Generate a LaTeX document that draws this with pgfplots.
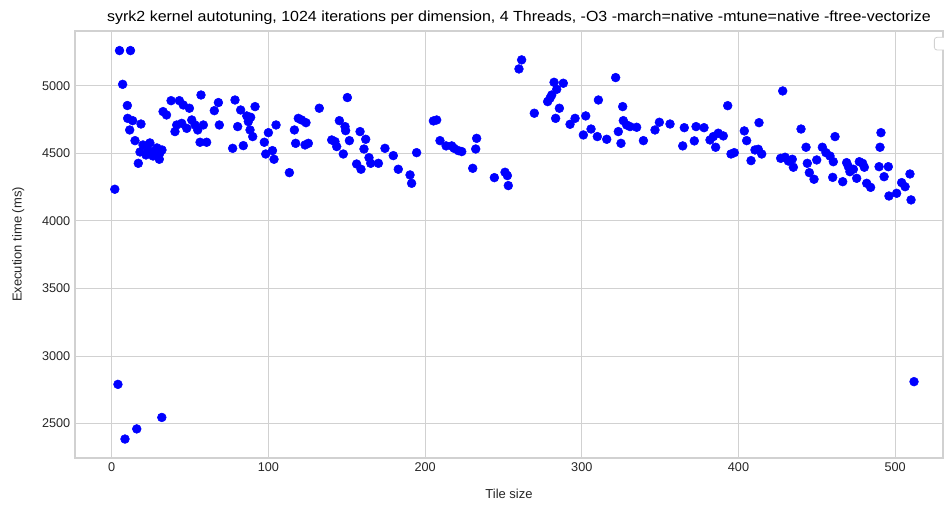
\documentclass[border=0pt]{standalone}
\usepackage{pgfplots}
\pgfplotsset{compat=1.18}
\usepackage{fontspec}
\setmainfont{Liberation Sans}
\definecolor{gridc}{gray}{0.82}
\definecolor{txt}{gray}{0.15}
\begin{document}
\begin{tikzpicture}
\useasboundingbox (-56.25pt,-36pt) rectangle (651.75pt,343.5pt);
\begin{axis}[
  at={(0,0)}, anchor=south west,
  scale only axis, width=651pt, height=320.25pt,
  xmin=-23.4, xmax=530.5, ymin=2244.6, ymax=5407,
  xtick={0,100,200,300,400,500},
  ytick={2500,3000,3500,4000,4500,5000},
  grid=major,
  major grid style={gridc, line width=0.75pt},
  axis line style={gridc, line width=0.9pt},
  tick style={draw=none},
  tick label style={font=\fontsize{9.5}{11}\selectfont, text=txt},
  /pgf/number format/assume math mode=true,
  /pgf/number format/1000 sep={},
  label style={font=\fontsize{9.75}{11}\selectfont, text=txt},
  xlabel={Tile size}, ylabel={Execution time (ms)},
  xlabel style={yshift=-6.5pt},
  ylabel style={yshift=6.5pt},
  title={syrk2 kernel autotuning, 1024 iterations per dimension, 4 Threads, -O3 -march=native -mtune=native -ftree-vectorize},
  title style={font=\fontsize{11}{12}\selectfont, text=black, yshift=-5pt, xshift=7.5pt, xscale=1.09},
  clip=false,
]
\addplot[only marks, mark=*, mark size=3.3pt, mark options={fill=blue, draw=blue}, color=blue] table {
x y
2 4235
5 5262
12 5262
7 5012
10 4855
10.2 4760
13.4 4743
18.7 4718
11.5 4674
14.9 4595
17.0 4427
20 4563
24.4 4578
28.9 4541
32.1 4526
18.1 4511
21.9 4489
26.4 4481
30.8 4504
23.2 4526
27.6 4519
30.4 4457
40.4 4662
37.9 4891
43.2 4891
32.8 4810
35 4785
45.7 4859
49.6 4835
41.5 4711
44.7 4723
47.9 4686
51.1 4748
53.2 4711
54.9 4674
58.5 4711
57 4933
56.4 4583
60.6 4583
65.5 4817
68.1 4877
68.7 4711
78.7 4896
77.2 4538
82.3 4822
80.4 4699
84 4558
86.2 4778
88.7 4768
87.2 4736
91.5 4847
88.3 4674
90 4625
97.4 4583
100 4654
104.9 4711
98.3 4496
102.6 4521
103.6 4457
113.4 4358
116.6 4674
117.4 4575
119.1 4760
121.2 4748
124 4728
123.4 4563
125.5 4575
132.5 4835
140.4 4600
142.5 4588
143.6 4551
145.3 4743
147.8 4496
148.9 4699
149.3 4669
150.4 4914
151.7 4595
156.3 4422
159.1 4383
158.5 4662
162.1 4605
161 4533
164.2 4469
165.3 4427
170.2 4427
174.4 4538
179.7 4484
182.9 4383
190.4 4341
191.4 4279
194.6 4506
205.3 4741
207.4 4748
209.5 4595
213.4 4556
217 4556
218.5 4538
221.2 4521
223.4 4514
232.9 4612
232.3 4533
230.4 4390
244.2 4321
251 4361
252.5 4336
253.1 4262
259.9 5126
261.6 5193
269.7 4798
278.2 4884
279.7 4909
280.8 4933
282.3 5027
284 4975
288.2 5020
283.3 4760
285.7 4835
292.5 4716
295.7 4760
301 4637
302.5 4778
305.9 4681
310.6 4896
309.9 4625
315.9 4605
321.6 5062
323.3 4662
325 4575
326.1 4847
326.5 4743
328.6 4711
330.8 4699
335 4694
339.3 4595
346.7 4674
349.5 4731
356.3 4718
364.4 4556
365.4 4691
371.8 4593
372.9 4699
378 4691
381.8 4600
383.9 4625
385.4 4546
387.1 4650
390.3 4630
393.1 4854
395.2 4496
397.3 4506
403.7 4667
405.2 4595
408 4447
410.5 4526
412.6 4531
414.8 4496
413.1 4728
428.2 4963
426.9 4464
429.7 4472
431.8 4444
434.3 4457
435 4398
439.9 4681
443.1 4546
443.9 4427
445.2 4358
448.2 4309
449.9 4452
453.5 4546
455.8 4506
458.4 4481
460.5 4439
461.6 4625
460.1 4323
466.5 4291
469 4432
470.1 4402
471.1 4365
473.3 4383
475.4 4316
477.1 4439
479.2 4427
480.3 4398
481.8 4279
484.3 4249
490.9 4654
490.3 4546
489.7 4402
492.9 4328
495.6 4402
496 4185
500.9 4205
504.1 4284
506.3 4254
509.4 4348
510.1 4156
4 2790
8.5 2385
16 2460
32 2545
512 2810
};
\end{axis}
\draw[gridc, rounded corners=2pt, fill=white, line width=0.6pt] (644.5pt,315.5pt) rectangle +(12pt,-9.5pt);
\end{tikzpicture}
\end{document}
